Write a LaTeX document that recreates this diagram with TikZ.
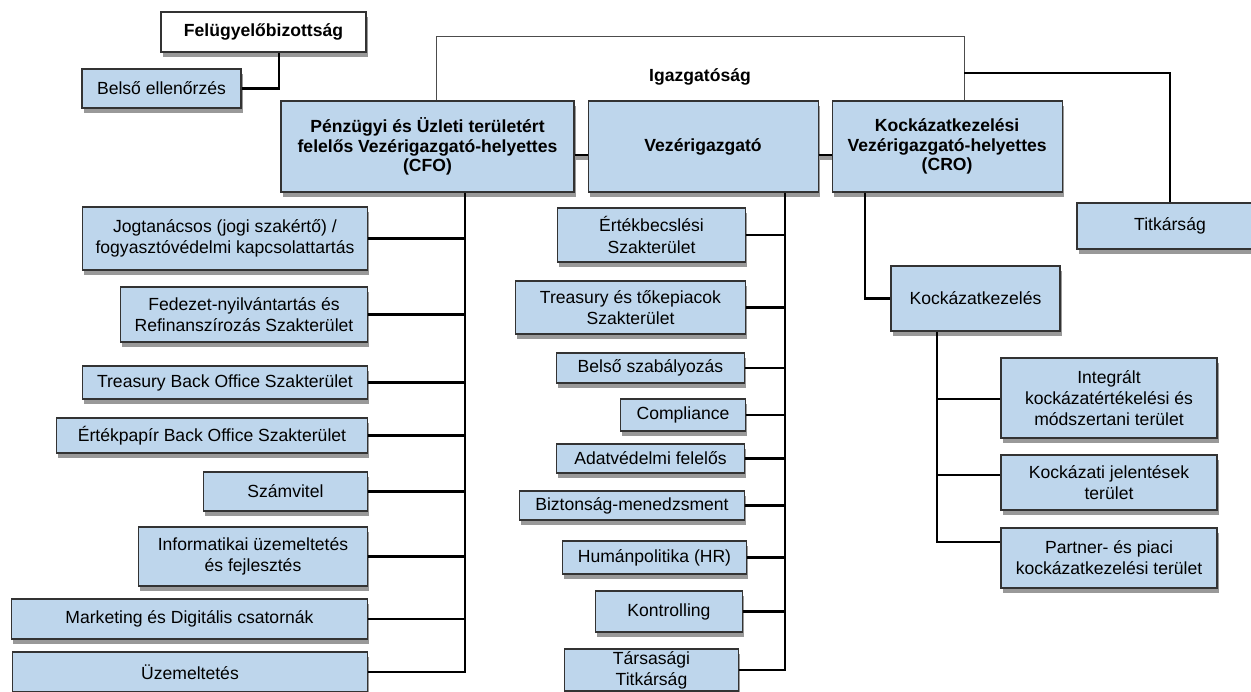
\documentclass[tikz,border=0pt]{standalone}
\usepackage{fontspec}
\setmainfont{Liberation Sans}
\usetikzlibrary{positioning,shadows}
\definecolor{boxblue}{RGB}{190,214,236}
\tikzset{x=0.02cm, y=-0.02cm,
  wh/.style 2 args={minimum width=#1*0.02cm, minimum height=#2*0.02cm},
  box/.style={draw=black!80, line width=0.6pt, fill=boxblue, inner sep=0pt, align=center,
    font=\fontsize{10}{12}\selectfont,
    drop shadow={shadow xshift=1pt, shadow yshift=-2.6pt, fill=black!40, opacity=1}},
  hbox/.style={box, font=\fontsize{10}{11.2}\selectfont\bfseries},
  conn/.style={line width=1.6pt},
  frame/.style={draw=black!70, line width=0.5pt}}

\begin{document}
\begin{tikzpicture}
                \useasboundingbox (0,0) rectangle (1251,692);
                \coordinate (igL) at (436,36);
                \coordinate (igR) at (964,36);
                \coordinate (tk) at (964,73);
                \coordinate (fb) at (279,0);
                \coordinate (tc) at (465,0);
                \coordinate (vt) at (785,0);
                \coordinate (ct) at (865,0);
                \coordinate (kt) at (937,0);
                \coordinate (rl) at (0,155);
                \coordinate (rs) at (0,157.5);

                \node[hbox, fill=white, wh={205}{40}] (Felug) at (263.5,32) {Felügyelőbizottság};
                \node[box, wh={159}{39}] (Belso) at (161.5,88.5) {Belső ellenőrzés};
                \node[font=\fontsize{10}{12}\selectfont\bfseries] (Igaz) at (700,77) {Igazgatóság};
                \node[hbox, wh={293}{91}] (CFO) at (427.5,146.5) {Pénzügyi és Üzleti területért\\felelős Vezérigazgató-helyettes\\(CFO)};
                \node[hbox, wh={230}{91}, right=0.26cm of CFO] (Vez) {Vezérigazgató};
                \node[hbox, wh={230}{91}, right=0.26cm of Vez] (CRO) {Kockázatkezelési\\Vezérigazgató-helyettes\\(CRO)};
                \node[box, wh={186}{46}] (Titk) at (1170,226) {Titkárság};

                \node[box, wh={285}{63}, anchor=east] (Jog) at (368,238.5) {Jogtanácsos (jogi szakértő) /\\fogyasztóvédelmi kapcsolattartás};
                \node[box, wh={247}{55}, anchor=east] (Fed) at (368,314.5) {Fedezet-nyilvántartás és\\Refinanszírozás Szakterület};
                \node[box, wh={285}{33}, anchor=east] (TBO) at (368,382.5) {Treasury Back Office Szakterület};
                \node[box, wh={311}{35}, anchor=east] (EBO) at (368,435.5) {Értékpapír Back Office Szakterület};
                \node[box, wh={164}{39}, anchor=east] (Szamv) at (368,491.5) {Számvitel};
                \node[box, wh={229}{59}, anchor=east] (Inf) at (368,556.5) {Informatikai üzemeltetés\\és fejlesztés};
                \node[box, wh={356}{40}, anchor=east] (Mark) at (368,619) {Marketing és Digitális csatornák};
                \node[box, wh={355}{40}, anchor=east] (Uzem) at (368,672) {Üzemeltetés};

                \node[box, wh={188}{54}, anchor=east] (Ertb) at (746,235) {Értékbecslési\\Szakterület};
                \node[box, wh={230}{53}, anchor=east] (Treas) at (746,307.5) {Treasury és tőkepiacok\\Szakterület};
                \node[box, wh={188}{30}, anchor=east] (BSzab) at (745,368) {Belső szabályozás};
                \node[box, wh={125}{32}, anchor=east] (Compl) at (746,415) {Compliance};
                \node[box, wh={188}{29}, anchor=east] (Adat) at (745,458.5) {Adatvédelmi felelős};
                \node[box, wh={225}{29}, anchor=east] (Bizt) at (745,505.5) {Biztonság-menedzsment};
                \node[box, wh={184}{33}, anchor=east] (Human) at (747,557.5) {Humánpolitika (HR)};
                \node[box, wh={147}{41}, anchor=east] (Kontr) at (743,611.5) {Kontrolling};
                \node[box, wh={174}{42}, anchor=east] (Tars) at (739,670) {Társasági\\Titkárság};

                \node[box, wh={169}{65}] (Kock) at (975.5,298.5) {Kockázatkezelés};
                \node[box, wh={216}{80}] (Integ) at (1109,398) {Integrált\\kockázatértékelési és\\módszertani terület};
                \node[box, wh={216}{55}] (KJel) at (1109,482.5) {Kockázati jelentések\\terület};
                \node[box, wh={216}{60}] (Partner) at (1109,558) {Partner- és piaci\\kockázatkezelési terület};

                \draw[frame] (CFO.north -| igL) -- (igL) -- (igR) -- (CRO.north -| igR);
                \draw[conn] (Felug.south -| fb) |- (Belso.east);
                \draw[conn] (tk) -| (Titk.north);
                \draw[line width=2.4pt, black!40] (CFO.east |- rs) -- (Vez.west |- rs);
                \draw[line width=2.4pt, black!40] (Vez.east |- rs) -- (CRO.west |- rs);
                \draw[line width=0.6pt] (CFO.east |- rl) -- (Vez.west |- rl);
                \draw[line width=0.6pt] (Vez.east |- rl) -- (CRO.west |- rl);

                \draw[conn] (CFO.south -| tc) |- (Uzem.east);
                \foreach \n in {Jog,Fed,TBO,EBO,Szamv,Inf,Mark}
                  \draw[conn] (\n.east) -- (\n.east -| tc);
                \draw[conn] (Vez.south -| vt) |- (Tars.east);
                \foreach \n in {Ertb,Treas,BSzab,Compl,Adat,Bizt,Human,Kontr}
                  \draw[conn] (\n.east) -- (\n.east -| vt);
                \draw[conn] (CRO.south -| ct) |- (Kock.west);
                \draw[conn] (Kock.south -| kt) |- (Partner.west |- 0,542);
                \foreach \n/\yy in {Integ/399,KJel/475}
                  \draw[conn] (\n.west |- 0,\yy) -- (kt |- 0,\yy);
              \end{tikzpicture}
\end{document}
